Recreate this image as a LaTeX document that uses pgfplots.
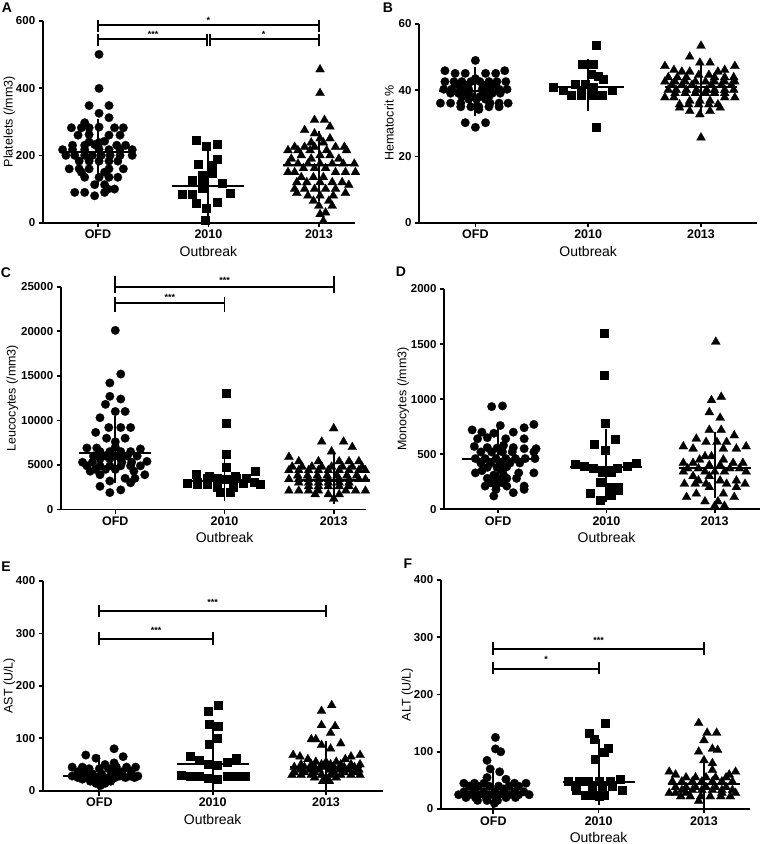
\documentclass[border=0pt]{standalone}
\usepackage{fontspec}
\setmainfont{Liberation Sans}
\usepackage{pgfplots}
\pgfplotsset{compat=1.18}

\pgfplotsset{
  prism/.style={
    scale only axis, anchor=south west, clip=false,
    axis x line*=bottom, axis y line*=left,
    xmin=-0.5, ymin=0,
    xtick={0,1,2}, xticklabels={OFD,2010,2013},
    tick align=outside, major tick length=4pt,
    tick style={black, line width=1.6pt},
    axis line style={line width=1.8pt},
    xticklabel style={font=\bfseries\fontsize{12.5}{13}\selectfont},
    yticklabel style={font=\bfseries\fontsize{11.5}{12}\selectfont},
    /pgf/number format/assume math mode=true,
    /pgf/number format/1000 sep={},
    scaled y ticks=false,
    xlabel={Outbreak},
    xlabel style={font=\fontsize{14}{15}\selectfont},
    ylabel style={font=\fontsize{12.5}{14}\selectfont},
  },
  circ/.style={only marks, mark=*, mark size=4.3pt, mark options={fill=black, draw=black, line width=0.2pt}},
  sq/.style={only marks, mark=square*, mark size=4pt, mark options={fill=black, draw=black, line width=0.2pt}},
  tri/.style={only marks, mark=triangle*, mark size=5.2pt, mark options={fill=black, draw=black, line width=0.2pt}},
  medbar/.style={black, only marks, mark=-, mark size=36pt, mark options={line width=2pt},
    error bars/.cd, y dir=both, y explicit,
    error bar style={line width=1.9pt},
    error mark options={line width=1.9pt, mark size=16pt}},
}
\tikzset{brk/.style={line width=1.8pt}, star/.style={anchor=south, inner sep=1pt, font=\bfseries\fontsize{9}{9}\selectfont}}

\begin{document}
\begin{tikzpicture}
\path[use as bounding box] (0,0) rectangle (760pt,-844pt);

% ---------------- A: platelets
\begin{axis}[prism, at={(42.7pt,-222.7pt)}, width=312.7pt, height=202pt,
  xmax=2.33, ymax=600, ytick={0,200,400,600},
  ylabel={Platelets (/mm3)}, ylabel shift=-6pt, xlabel style={at={(ticklabel cs:0.53)}}]
\addplot[circ] coordinates {(0.01,500)(0.01,399)(-0.08,348)(0.10,348)(0.01,325)(0.10,312)(-0.12,297)
(-0.24,282)(-0.15,282)(-0.08,282)(0.01,284)(0.15,282)(0.23,282)
(-0.18,260)(-0.08,262)(0.10,260)(0.20,260)
(-0.08,240)(0.01,238)(0.06,242)
(-0.23,230)(-0.12,230)(-0.03,232)(0.17,230)(0.25,230)
(-0.32,217)(-0.23,217)(-0.12,217)(0.01,218)(0.10,217)(0.20,217)(0.31,217)
(-0.29,200)(-0.21,200)(-0.12,200)(-0.05,200)(0.03,200)(0.11,200)(0.20,200)(0.31,200)
(-0.17,183)(-0.08,183)(0.01,183)(0.10,183)(0.18,183)
(-0.26,160)(-0.17,160)(-0.08,160)(0.10,160)(0.23,160)
(-0.15,150)(0.06,150)
(-0.12,135)(0.01,135)(0.10,135)(0.18,135)
(-0.03,113)(0.06,113)(0.09,100)(0.15,100)
(-0.21,90)(-0.12,90)(0.06,90)(-0.03,80)};
\addplot[sq] coordinates {(0.89,245)(1.08,234)(0.98,229)(1.08,188)(0.91,175)(1.03,172)(0.94,142)(1.03,147)
(0.85,127)(0.94,122)(1.12,119)(0.94,102)(0.76,85)(0.85,85)(1.20,89)(0.89,59)(1.08,62)(0.98,43)(0.97,8)};
\addplot[tri] coordinates {(2.01,455)(2.01,385)(1.96,305)(2.05,305)(2.10,285)(1.87,275)(1.96,265)(2.01,250)(2.10,250)
(1.93,238)(2.04,238)(1.78,225)(1.87,225)(1.96,225)(2.15,225)(2.23,225)
(1.72,215)(1.81,215)(1.92,215)(2.07,215)(2.25,215)(1.84,200)(2.01,200)(2.10,200)
(1.75,190)(1.93,190)(2.18,190)
(1.72,175)(1.81,175)(1.90,175)(2.01,175)(2.12,175)(2.22,175)(2.32,175)
(1.86,162)(1.96,162)(2.06,162)(1.72,150)(1.78,150)(2.15,150)(2.24,150)(2.33,150)
(1.84,135)(1.95,135)(2.04,135)(1.80,120)(1.89,120)(2.01,120)(2.12,120)(2.21,120)(2.27,112)
(1.78,100)(1.87,100)(1.96,100)(2.06,100)(2.15,100)(1.80,88)(2.24,88)
(1.90,80)(2.01,80)(2.13,80)(1.95,65)(2.09,65)(2.00,50)(2.12,50)(2.06,30)(2.01,25)(2.04,5)};
\addplot[medbar] coordinates {(0,211) -= (0,51) += (0,49) (1,108) -= (0,46) += (0,65) (2,170) -= (0,58) += (0,55)};
\draw[brk] (axis cs:0,565) -- (axis cs:0,602) (axis cs:0,587) -- (axis cs:2,587) (axis cs:2,565) -- (axis cs:2,602);
\draw[brk] (axis cs:0,525) -- (axis cs:0,562) (axis cs:0,545) -- (axis cs:0.985,545) (axis cs:0.985,525) -- (axis cs:0.985,562);
\draw[brk] (axis cs:1.015,525) -- (axis cs:1.015,562) (axis cs:1.015,545) -- (axis cs:2,545) (axis cs:2,525) -- (axis cs:2,562);
\node[star] at (axis cs:1,589) {*};
\node[star] at (axis cs:0.5,547) {***};
\node[star] at (axis cs:1.5,547) {*};
\end{axis}

% ---------------- B: hematocrit
\begin{axis}[prism, at={(419pt,-222.7pt)}, width=338.4pt, height=198.7pt,
  xmax=2.5, ymax=60, ytick={0,20,40,60},
  ylabel={Hematocrit \%}, ylabel shift=-2pt]
\addplot[circ] coordinates {(0,49)(-0.27,45.9)(0.26,45.9)(-0.18,45.1)(-0.09,45.1)(0.09,45.1)(0.18,45.1)(0,43.5)
(-0.27,42.6)(-0.19,42.6)(-0.12,42.6)(-0.04,42.6)(0.04,42.6)(0.12,42.6)(0.19,42.6)(0.27,42.6)
(-0.15,41.6)(-0.07,41.6)(0.09,41.6)(0.16,41.6)
(-0.28,40.3)(-0.21,40.3)(-0.13,40.3)(-0.06,40.3)(0.06,40.3)(0.13,40.3)(0.21,40.3)(0.28,40.3)
(-0.22,39.1)(-0.15,39.1)(-0.07,39.1)(0.07,39.1)(0.15,39.1)(0.22,39.1)
(-0.12,38.1)(-0.03,38.1)(0.04,38.1)(0.12,38.1)(-0.06,37.3)(0.01,37.3)(0.09,37.3)
(-0.31,36.1)(-0.22,36.1)(-0.13,36.1)(0.13,36.1)(0.21,36.1)(0.29,36.1)
(-0.13,35)(-0.04,35)(0.03,35)(0.12,35)(0.21,35)(0.03,34.2)(-0.09,30.2)(0.09,30.2)(0,28.8)};
\addplot[sq] coordinates {(1.07,53.5)(0.95,48)(1.04,48)(1.03,45)(1.09,44.3)(1.13,43.4)(0.88,42)(0.97,42)(0.69,41)
(1.04,40.8)(0.78,40)(0.94,40)(1.21,40)(0.85,38.5)(0.94,38.5)(1.04,38.5)(1.12,38.5)(1.07,28.8)};
\addplot[tri] coordinates {(2,53.4)(1.90,50.1)(1.99,48.3)(2.08,48.3)(1.68,47.3)(2.30,47.3)(1.76,46.1)(2.21,46.1)
(1.83,45.6)(1.90,45.6)(2.15,45.6)(1.98,44.6)(2.07,44.6)
(1.71,43.9)(1.79,43.9)(1.87,43.9)(2.12,43.9)(2.21,43.9)(2.29,43.9)
(1.68,42.6)(1.77,42.6)(1.86,42.6)(1.95,42.6)(2.04,42.6)(2.12,42.6)(2.21,42.6)(2.30,42.6)
(1.74,41.6)(1.83,41.6)(1.92,41.6)(2.09,41.6)(2.18,41.6)(2.27,41.6)
(1.71,40.1)(1.78,40.1)(1.87,40.1)(1.96,40.1)(2.05,40.1)(2.12,40.1)(2.21,40.1)(2.29,40.1)
(1.77,39.1)(1.86,39.1)(1.95,39.1)(2.04,39.1)(2.12,39.1)(2.21,39.1)
(1.68,37.8)(1.76,37.8)(2.21,37.8)(2.30,37.8)(1.90,36.8)(1.99,36.8)(2.08,36.8)
(1.81,35.7)(1.89,35.7)(1.98,35.7)(2.07,35.7)(2.15,35.7)
(1.81,34.7)(2.17,34.7)(1.90,33.7)(2.08,33.7)(1.99,32.7)(2,25.7)};
\addplot[medbar] coordinates {(0,39.8) -= (0,2.8) += (0,2.4) (1,41) -= (0,2.5) += (0,3.5) (2,41) -= (0,3) += (0,2.5)};
\end{axis}

% ---------------- C: leucocytes
\begin{axis}[prism, at={(60.7pt,-509.5pt)}, width=305.8pt, height=222.8pt,
  xmax=2.3, ymax=25000, ytick={0,5000,10000,15000,20000,25000},
  ylabel={Leucocytes (/mm3)}, ylabel shift=-4pt, xlabel style={at={(ticklabel cs:0.536)}}]
\addplot[circ] coordinates {(0,20100)(0.05,15200)(-0.05,14200)(-0.05,12700)(0.05,12400)(-0.09,11800)(0,11000)(0.09,11000)(-0.14,10300)
(-0.06,9200)(0.05,9200)(0.14,9200)(-0.18,8650)(-0.08,8000)(0.09,8000)(0,7600)
(-0.26,6900)(-0.17,6900)(0,7000)(0.23,6800)
(-0.14,6500)(-0.05,6500)(0.05,6500)(0.14,6500)
(-0.20,6000)(-0.09,6000)(0,6000)(0.11,6000)(0.20,6000)
(-0.14,5700)(-0.05,5700)(0.05,5700)
(-0.30,5300)(-0.21,5300)(0.06,5300)(0.15,5300)(0.29,5400)
(-0.26,4900)(-0.14,4900)(-0.05,4900)(0.05,4900)(0.14,4900)(0.23,4900)
(-0.18,4500)(-0.09,4500)(0,4500)(-0.23,4300)(0.17,4300)
(-0.14,3900)(0.27,3900)(0.09,3500)(0.18,3500)(-0.05,3200)(0.14,3000)(-0.14,2600)(0.05,2200)(-0.05,1900)};
\addplot[sq] coordinates {(1.01,13100)(1.01,9700)(1.01,6200)(1.01,4800)(1.28,4300)(0.74,4000)(0.86,3700)(1.10,3700)
(0.84,3500)(0.93,3500)(1.01,3400)(1.11,3500)(1.20,3500)(0.75,3100)(1.27,3100)(0.66,3000)(0.93,3000)(1.08,3000)(1.17,3000)
(0.75,2800)(0.84,2800)(1.33,2800)(0.93,2500)(1.08,2500)(0.96,2000)(1.05,2000)};
\addplot[tri] coordinates {(2,9100)(1.89,7600)(2.09,7600)(2.17,7000)(1.98,6500)(1.59,5900)
(1.68,5400)(1.86,5400)(2.05,5400)(2.14,5400)(2.23,5400)
(1.62,4800)(1.71,4800)(1.80,4800)(1.89,4800)(1.98,4800)(2.08,4800)(2.17,4800)(2.26,4800)
(1.59,4400)(1.68,4400)(1.77,4400)(1.86,4400)(1.95,4400)(2.05,4400)(2.14,4400)(2.23,4400)(2.29,4400)
(1.67,3800)(1.76,3800)(1.85,3800)(1.94,3800)(2.03,3800)(2.12,3800)(2.21,3800)
(1.59,3400)(1.68,3400)(1.77,3400)(1.86,3400)(1.95,3400)(2.05,3400)(2.14,3400)(2.23,3400)(2.29,3400)
(1.68,3000)(1.77,3000)(1.86,3000)(1.95,3000)(2.05,3000)(2.14,3000)
(1.77,2600)(1.86,2600)(1.95,2600)(2.05,2600)(2.14,2600)
(1.59,2100)(1.68,2100)(1.77,2100)(1.86,2100)(2.11,2100)(2.20,2100)(2.29,2100)
(1.83,1700)(1.95,1700)(2.05,1700)(2,1200)};
\addplot[medbar] coordinates {(0,6300) -= (0,1500) += (0,2400) (1,3200) -= (0,500) += (0,900) (2,3300) -= (0,900) += (0,1300)};
\draw[brk] (axis cs:0,24260) -- (axis cs:0,26200) (axis cs:0,25000) -- (axis cs:2,25000) (axis cs:2,24260) -- (axis cs:2,26200);
\draw[brk] (axis cs:0,22200) -- (axis cs:0,23900) (axis cs:0,23130) -- (axis cs:1,23130) (axis cs:1,22200) -- (axis cs:1,23900);
\node[star] at (axis cs:1,25200) {***};
\node[star] at (axis cs:0.5,23330) {***};
\end{axis}

% ---------------- D: monocytes
\begin{axis}[prism, at={(444pt,-509.2pt)}, width=316.2pt, height=220.2pt,
  xmax=2.42, ymax=2000, ytick={0,500,1000,1500,2000},
  ylabel={Monocytes (/mm3)}, ylabel shift=-5pt, xlabel style={at={(ticklabel cs:0.514)}}]
\addplot[circ] coordinates {(-0.06,932)(0.04,938)(0.02,760)(0.33,770)(0.24,740)(-0.24,720)(-0.15,700)(0.14,700)(-0.04,690)
(-0.19,640)(-0.10,650)(0.07,640)(0.24,640)
(-0.22,570)(0.05,580)(-0.10,560)(-0.01,555)(0.14,560)(0.24,550)(0.35,550)
(-0.16,520)(-0.06,520)(0.04,520)(0.13,520)(0.33,520)
(-0.21,460)(-0.12,460)(-0.02,460)(0.07,460)(0.16,460)(0.25,460)(0.34,460)
(-0.16,420)(-0.07,420)(0.02,420)(0.11,420)(0.20,420)
(-0.10,380)(-0.01,380)(0.08,385)(-0.15,350)(0.04,350)
(-0.21,330)(0.19,330)(0.33,330)(-0.04,310)(0.05,310)
(-0.10,280)(-0.01,280)(0.08,280)(0.17,280)(-0.07,240)(0.04,240)
(-0.12,210)(-0.02,210)(0.08,210)(0.24,210)(-0.02,180)(0.24,180)(0.14,150)(-0.04,120)};
\addplot[sq] coordinates {(0.98,1600)(0.98,1220)(0.99,780)(1.08,640)(0.89,590)(0.99,540)(1.27,420)(0.71,410)(0.79,390)(1.19,390)
(0.88,370)(1.10,370)(0.96,340)(1.04,340)(0.94,250)(1.04,200)(1.11,200)(1.11,170)(0.85,150)(1.04,130)(0.94,80)};
\addplot[tri] coordinates {(2.01,1520)(2.06,1020)(1.97,990)(1.95,880)(2.05,830)(1.95,720)(2.06,720)(2.18,670)(1.83,640)
(1.92,610)(2.02,610)(2.11,610)(1.71,570)(2.29,570)(1.80,550)(2.08,550)(2.20,550)(1.91,480)(1.97,480)(1.86,450)(2.08,450)
(1.71,420)(1.80,420)(2.17,420)(2.26,420)(1.95,400)(2.05,400)(1.75,370)(1.85,370)(2.14,370)(2.23,370)
(1.71,340)(1.91,340)(2,340)(2.09,340)(2.29,340)(1.80,300)(1.95,300)(1.85,260)(2.05,260)(2.20,260)
(1.72,230)(1.82,230)(1.92,230)(2.11,230)(2.28,230)(1.95,200)(2.20,200)(1.83,140)(2.08,140)(1.74,110)(2.18,110)
(1.91,70)(2.03,70)(2,30)(2.09,30)};
\addplot[medbar] coordinates {(0,460) -= (0,145) += (0,160) (1,380) -= (0,170) += (0,205) (2,370) -= (0,120) += (0,190)};
\end{axis}

% ---------------- E: AST
\begin{axis}[prism, at={(42.7pt,-790.7pt)}, width=340pt, height=209.7pt,
  xmax=2.5, ymax=400, ytick={0,100,200,300,400},
  ylabel={AST (U/L)}, ylabel shift=-6pt]
\addplot[circ] coordinates {(0.13,80)(-0.12,68)(0.21,65)(-0.03,62)(0.13,53)(0.05,50)
(-0.24,45)(-0.15,45)(0.15,45)(0.24,45)(0.32,45)(-0.09,42)(0,42)(0.08,42)
(-0.19,36)(-0.11,36)(0.11,36)(0.20,36)(0.28,36)(-0.15,32)(-0.06,32)(0.02,32)(0.14,32)
(-0.24,28)(-0.17,28)(-0.08,28)(0.01,28)(0.10,28)(0.18,28)(0.27,28)(0.34,28)
(-0.19,25)(-0.12,25)(-0.03,25)(0.05,25)(0.14,25)(0.23,25)(0.31,25)
(-0.15,22)(-0.06,22)(0.02,22)(0.11,22)(-0.08,18)(0.01,18)(0.10,18)(-0.03,14)(0.05,14)(0.01,10)};
\addplot[sq] coordinates {(1.05,163)(0.96,152)(0.97,127)(1.05,124)(1.04,100)(0.97,88)(0.80,66)(1.21,62)(0.88,58)(1.13,55)
(0.96,50)(1.04,48)(0.72,30)(1.29,28)(0.80,27)(0.88,27)(1.21,27)(1.13,27)(0.96,25)(1.04,22)};
\addplot[tri] coordinates {(2.05,163)(1.96,152)(1.96,125)(2.08,123)(2.04,110)(1.87,98)(1.91,98)(2.13,90)(1.96,87)(2.04,80)
(1.71,68)(2.30,68)(1.77,65)(2.22,65)(1.84,60)(2.17,60)(1.91,55)(2,55)(2.09,55)
(1.78,50)(1.87,50)(1.96,50)(2.04,50)(2.13,50)(2.22,50)(2.30,50)
(1.72,45)(1.81,45)(1.90,45)(1.99,45)(2.07,45)(2.16,45)(2.25,45)
(1.77,40)(1.86,40)(1.94,40)(2.03,40)(2.12,40)(2.20,40)(2.29,40)
(1.72,35)(1.81,35)(1.90,35)(2.07,35)(2.16,35)(2.25,35)
(1.70,30)(1.78,30)(1.87,30)(1.96,30)(2.04,30)(2.13,30)(2.22,30)(2.30,30)
(1.90,25)(2,25)(2.09,25)(1.97,18)(2.03,18)};
\addplot[medbar] coordinates {(0,28) -= (0,8) += (0,10) (1,50) -= (0,24) += (0,44) (2,45) -= (0,15) += (0,20)};
\draw[brk] (axis cs:0,332) -- (axis cs:0,354) (axis cs:0,343) -- (axis cs:2,343) (axis cs:2,332) -- (axis cs:2,354);
\draw[brk] (axis cs:0,278) -- (axis cs:0,302) (axis cs:0,289) -- (axis cs:1,289) (axis cs:1,278) -- (axis cs:1,302);
\node[star] at (axis cs:1,351) {***};
\node[star] at (axis cs:0.5,297) {***};
\end{axis}

% ---------------- F: ALT
\begin{axis}[prism, at={(440.7pt,-809pt)}, width=309.6pt, height=229pt,
  xmax=2.44, ymax=400, ytick={0,100,200,300,400},
  ylabel={ALT (U/L)}, ylabel shift=-6pt, xlabel style={at={(ticklabel cs:0.51)}}]
\addplot[circ] coordinates {(0.02,125)(0.02,105)(0.07,100)(-0.06,85)(-0.03,70)(0.06,65)(-0.06,55)(0.12,52)
(-0.28,45)(-0.18,45)(-0.09,45)(0.20,45)(0.31,45)(-0.23,40)(-0.14,40)(-0.04,40)(0.05,40)(0.15,40)(0.24,40)
(-0.18,35)(0.10,35)(-0.28,30)(-0.18,30)(-0.09,30)(0.01,30)(0.10,30)(0.20,30)(0.29,30)
(-0.33,25)(-0.23,25)(-0.14,25)(-0.04,25)(0.05,25)(0.15,25)(0.24,25)(0.34,25)
(-0.26,20)(-0.17,20)(-0.07,20)(0.02,20)(0.12,20)(0.21,20)(-0.15,15)(-0.06,15)(0.04,15)(0.01,10)};
\addplot[sq] coordinates {(1.06,150)(0.91,133)(0.96,122)(1.09,106)(1.05,100)(0.97,88)(1.20,52)
(0.71,48)(0.81,48)(0.90,48)(1,48)(1.11,48)(0.78,40)(0.94,40)(1.03,40)(1.13,40)
(0.79,33)(1.22,33)(0.87,25)(0.95,25)(1.05,25)(1,22)};
\addplot[tri] coordinates {(1.95,150)(2.03,133)(2.12,133)(2,120)(2.08,105)(2.13,103)(1.95,100)(2,85)(2.08,80)
(1.67,65)(2.30,65)(2.08,68)(1.73,60)(2.24,60)(1.83,55)(1.92,55)(2.02,55)(2.11,55)(2.21,55)
(1.70,48)(1.79,48)(1.89,48)(1.98,48)(2.08,48)(2.17,48)(2.27,48)
(1.73,38)(1.83,38)(1.92,38)(2.02,38)(2.11,38)(2.21,38)
(1.79,33)(1.89,33)(1.98,33)(2.08,33)(2.17,33)(2.27,33)
(1.67,28)(1.73,28)(1.83,28)(2.17,28)(2.30,28)
(1.78,22)(1.87,22)(1.97,22)(2.06,22)(2.16,22)(2.25,22)(1.95,14)};
\addplot[medbar] coordinates {(0,28) -= (0,8) += (0,15) (1,47) -= (0,12) += (0,47) (2,43) -= (0,13) += (0,15)};
\draw[brk] (axis cs:0,269) -- (axis cs:0,291) (axis cs:0,279) -- (axis cs:2,279) (axis cs:2,269) -- (axis cs:2,291);
\draw[brk] (axis cs:0,235) -- (axis cs:0,257) (axis cs:0,245) -- (axis cs:1,245) (axis cs:1,235) -- (axis cs:1,257);
\node[star] at (axis cs:1,287) {***};
\node[star] at (axis cs:0.5,253) {*};
\end{axis}

% panel letters
\begin{scope}[every node/.style={font=\bfseries\fontsize{14}{14}\selectfont}]
\node at (7pt,-8pt) {A};
\node at (388pt,-8pt) {B};
\node at (6pt,-273pt) {C};
\node at (401pt,-272pt) {D};
\node at (6pt,-567pt) {E};
\node at (408pt,-564pt) {F};
\end{scope}
\end{tikzpicture}
\end{document}
